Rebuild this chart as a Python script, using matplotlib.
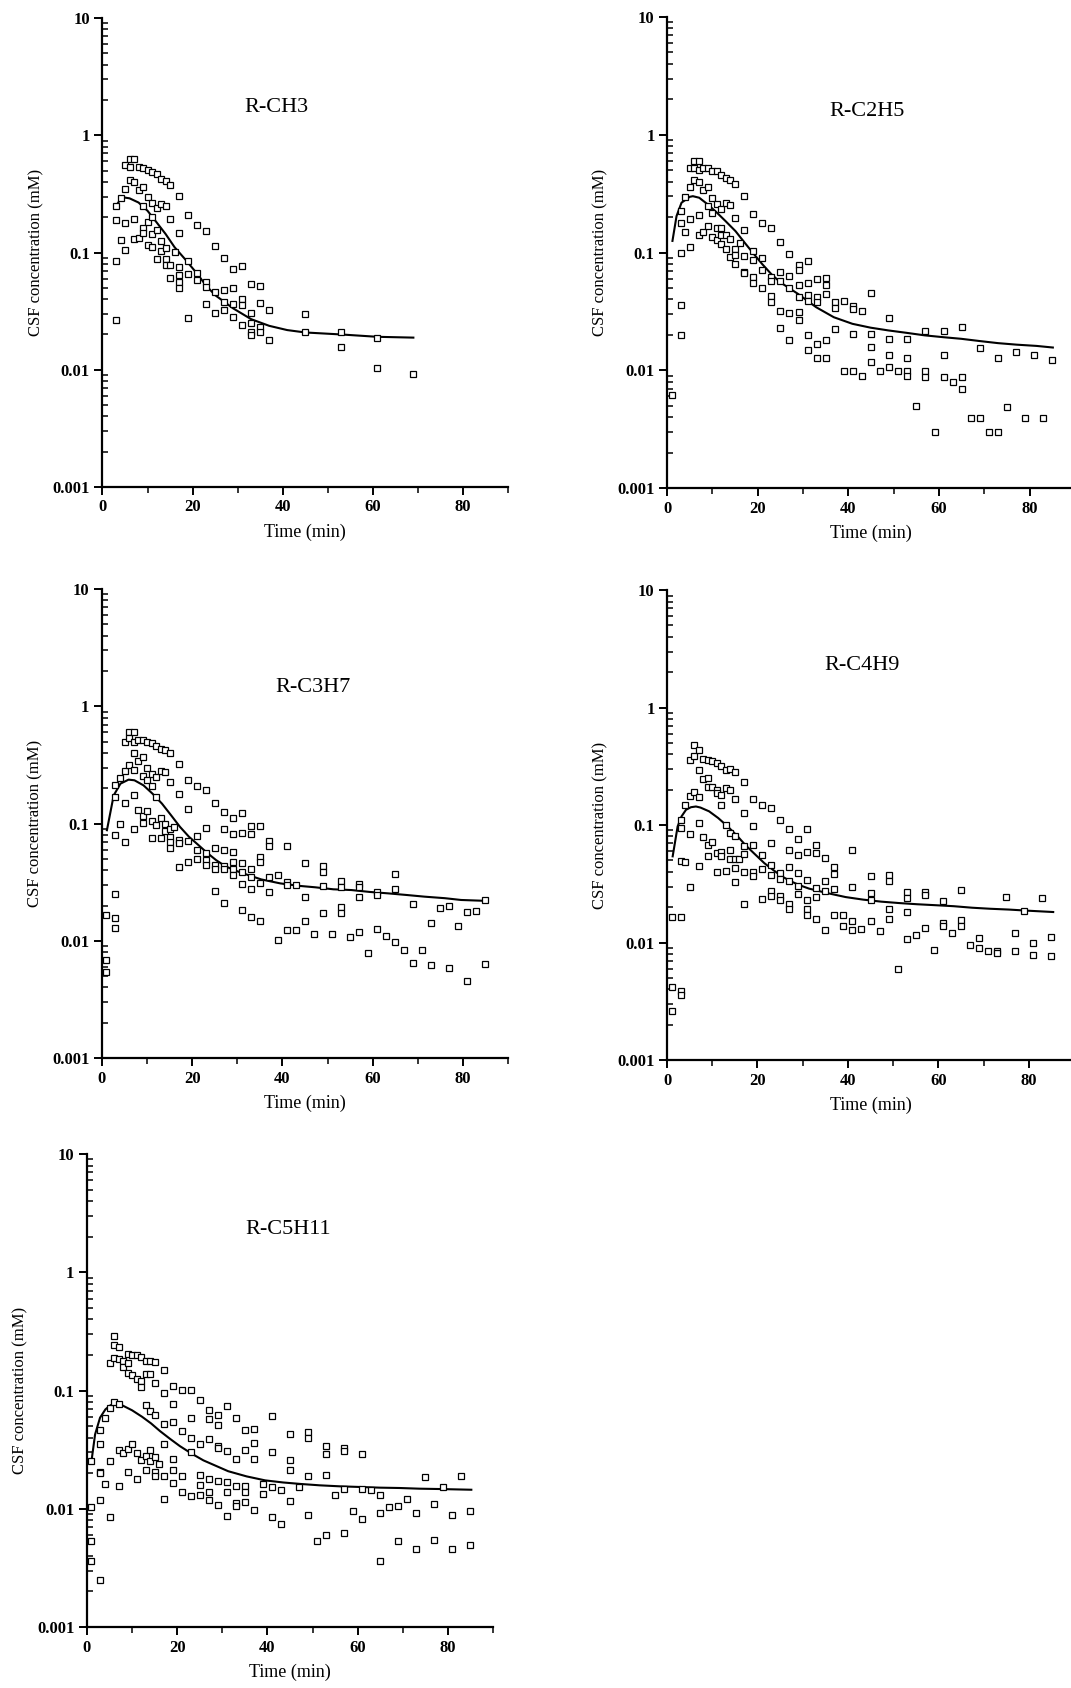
import numpy as np
import matplotlib
matplotlib.use('Agg')
import matplotlib.pyplot as plt
from matplotlib.ticker import MultipleLocator, LogLocator, NullFormatter

plt.rcParams['font.family'] = ['Liberation Serif', 'DejaVu Serif']

# ---- Datos (tiempo en min, concentracion en mM) ----
# R-CH3
t_ch3 = [3, 4, 5, 6, 7, 8, 9, 10, 11, 12, 13, 14, 15, 16, 17, 19, 21, 23, 25, 27,
         29, 31, 33, 35, 37, 45, 53, 61, 69]
c_ch3 = [[0.247, 0.191, 0.085, 0.0264], [0.294, 0.128], [0.557, 0.346, 0.18, 0.106],
         [0.622, 0.535, 0.413], [0.622, 0.40, 0.195, 0.131], [0.535, 0.342, 0.134],
         [0.528, 0.36, 0.249, 0.162, 0.146], [0.502, 0.298, 0.181, 0.115],
         [0.486, 0.265, 0.199, 0.144, 0.112], [0.464, 0.238, 0.156, 0.0873],
         [0.421, 0.258, 0.125, 0.104], [0.407, 0.25, 0.109, 0.0883, 0.0776],
         [0.377, 0.192, 0.0786, 0.0606], [0.101],
         [0.302, 0.148, 0.0751, 0.0638, 0.0561, 0.0499], [0.209, 0.0855, 0.0659, 0.0274],
         [0.173, 0.0668, 0.0579], [0.154, 0.0561, 0.0508, 0.0362], [0.113, 0.0458, 0.0302],
         [0.0895, 0.0477, 0.038, 0.0322], [0.0727, 0.0499, 0.0367, 0.0283],
         [0.0766, 0.04, 0.0356, 0.0241], [0.0539, 0.0302, 0.0249, 0.0211, 0.0198],
         [0.0522, 0.0372, 0.0233, 0.021], [0.0321, 0.0178], [0.03, 0.0208],
         [0.021, 0.0156], [0.0188, 0.0103], [0.0092]]
curva_t_ch3 = [3, 4, 5, 6, 8, 10, 12, 14, 16, 18.3, 21, 23, 25, 29, 33, 37, 41, 45, 53, 61, 69]
curva_c_ch3 = [0.25, 0.285, 0.294, 0.29, 0.267, 0.227, 0.181, 0.144, 0.111, 0.088, 0.066,
               0.0522, 0.0433, 0.0334, 0.027, 0.0237, 0.0218, 0.0208, 0.02, 0.0191, 0.0188]

# R-C2H5
t_c2h5 = [1, 3, 4, 5, 6, 7, 8, 9, 10, 11, 12, 13, 14, 15, 16, 17, 19, 21, 23, 25, 27, 29,
          31, 33, 35, 37, 39, 41, 43, 45, 47, 49, 51, 53, 55, 57, 59, 61, 63, 65, 67, 69,
          71, 73, 75, 77, 79, 81, 83, 85]
c_c2h5 = [[0.0062], [0.225, 0.179, 0.100, 0.0361, 0.0201], [0.297, 0.150],
          [0.523, 0.361, 0.191, 0.112], [0.595, 0.523, 0.417],
          [0.595, 0.506, 0.396, 0.208, 0.141], [0.523, 0.343, 0.148],
          [0.523, 0.361, 0.248, 0.168], [0.496, 0.292, 0.218, 0.136],
          [0.490, 0.256, 0.163, 0.127], [0.459, 0.235, 0.163, 0.140, 0.118],
          [0.430, 0.261, 0.140, 0.107], [0.417, 0.251, 0.130, 0.0925],
          [0.385, 0.198, 0.107, 0.0955, 0.0797], [0.1215],
          [0.305, 0.155, 0.0937, 0.0687, 0.0665], [0.214, 0.103, 0.0867, 0.0615, 0.0551],
          [0.179, 0.0907, 0.0709, 0.0497], [0.161, 0.0615, 0.0576, 0.0431, 0.0378],
          [0.123, 0.0678, 0.0576, 0.0317, 0.0230], [0.098, 0.0635, 0.0497, 0.0307, 0.0179],
          [0.0787, 0.0709, 0.0530, 0.0417, 0.0315, 0.0268],
          [0.0851, 0.0551, 0.0436, 0.0391, 0.0198, 0.0148],
          [0.0595, 0.0417, 0.0378, 0.0168, 0.0128], [0.0603, 0.0533, 0.0445, 0.0179, 0.0128],
          [0.0378, 0.0339, 0.0225], [0.0391, 0.0099], [0.0354, 0.0332, 0.0204, 0.0099],
          [0.0321, 0.0089], [0.0451, 0.0204, 0.0157, 0.0118], [0.0099],
          [0.0280, 0.0185, 0.0136, 0.0107], [0.0099], [0.0185, 0.0126, 0.0099, 0.0089],
          [0.0050], [0.0215, 0.0099, 0.0088], [0.0030], [0.0215, 0.0136, 0.0088], [0.0079],
          [0.0231, 0.0088, 0.0069], [0.0039], [0.0154, 0.0039], [0.0030], [0.0126, 0.0030],
          [0.0049], [0.0143], [0.0039], [0.0134], [0.0039], [0.0123]]
curva_t_c2h5 = [1.2, 2.1, 3.2, 5, 5.7, 7.1, 9, 11, 12.9, 15.1, 17.1, 19, 21, 23, 25, 28.9,
                32.9, 36.8, 40.9, 44.9, 48.8, 52.8, 56.8, 60.9, 64.9, 69, 73, 77.1, 81.5, 85.1]
curva_c_c2h5 = [0.1255, 0.204, 0.265, 0.297, 0.301, 0.292, 0.256, 0.218, 0.185, 0.152,
                0.1215, 0.0987, 0.0797, 0.0656, 0.0558, 0.0445, 0.0343, 0.0282, 0.0248,
                0.023, 0.0218, 0.0208, 0.0198, 0.0191, 0.0185, 0.0177, 0.017, 0.0165,
                0.0161, 0.0156]

# R-C3H7
t_c3h7 = t_c2h5
c_c3h7 = [[0.0166, 0.0069, 0.0054], [0.212, 0.169, 0.0796, 0.0251, 0.0158, 0.0128],
          [0.246, 0.100], [0.501, 0.280, 0.150, 0.069], [0.601, 0.538, 0.313],
          [0.601, 0.494, 0.401, 0.288, 0.176, 0.0895], [0.518, 0.345, 0.130],
          [0.518, 0.369, 0.254, 0.115, 0.101], [0.494, 0.299, 0.234, 0.127],
          [0.485, 0.266, 0.208, 0.105, 0.0746], [0.463, 0.249, 0.169, 0.097],
          [0.434, 0.280, 0.112, 0.0746], [0.426, 0.275, 0.100, 0.0867],
          [0.399, 0.226, 0.0907, 0.0771, 0.0690, 0.0621], [0.0937],
          [0.324, 0.180, 0.0731, 0.0685, 0.0428], [0.234, 0.132, 0.0708, 0.0472],
          [0.208, 0.0780, 0.0593, 0.0498], [0.192, 0.0919, 0.0556, 0.0488, 0.0443],
          [0.151, 0.0613, 0.0443, 0.0407, 0.0266],
          [0.126, 0.0895, 0.0593, 0.0434, 0.0407, 0.0209],
          [0.112, 0.0807, 0.0574, 0.0472, 0.0407, 0.0364],
          [0.122, 0.0839, 0.0457, 0.0388, 0.0305, 0.0183],
          [0.0955, 0.0811, 0.0407, 0.0348, 0.0275, 0.0161],
          [0.0955, 0.0521, 0.0472, 0.0309, 0.0148], [0.0708, 0.0646, 0.0348, 0.0263],
          [0.0364, 0.0102], [0.0642, 0.0319, 0.0299, 0.0124], [0.0299, 0.0124],
          [0.0457, 0.0235, 0.0149], [0.0114], [0.0437, 0.0383, 0.0295, 0.0174], [0.0115],
          [0.0326, 0.0290, 0.0196, 0.0172], [0.0107], [0.0305, 0.0290, 0.0235, 0.0120],
          [0.0079], [0.0263, 0.0246, 0.0126], [0.0109], [0.0369, 0.0275, 0.0097], [0.0084],
          [0.0206, 0.0065], [0.0083], [0.0143, 0.0062], [0.0190], [0.0198, 0.0059],
          [0.0135], [0.0175, 0.0045], [0.0180], [0.0224, 0.0063]]
curva_t_c3h7 = [1.1, 2.6, 4.1, 5.9, 7.2, 9.2, 11.2, 13.3, 15.3, 17.3, 19.3, 21.4, 23.3,
                25.3, 27.3, 29.3, 31.3, 35.3, 39.5, 43.4, 47.3, 51.3, 55.3, 59.4, 63.4,
                67.5, 71.5, 76, 79.6, 85.3]
curva_c_c3h7 = [0.0878, 0.174, 0.219, 0.237, 0.234, 0.212, 0.180, 0.148, 0.118, 0.0937,
                0.0771, 0.0655, 0.0563, 0.0488, 0.0434, 0.0401, 0.0376, 0.0334, 0.0309,
                0.0295, 0.0286, 0.0275, 0.0271, 0.0261, 0.0254, 0.0246, 0.0238, 0.0231,
                0.0223, 0.0219]

# R-C4H9
t_c4h9 = t_c2h5
c_c4h9 = [[0.0165, 0.0042, 0.0026], [0.111, 0.0944, 0.0491, 0.0165, 0.0039, 0.0036],
          [0.149, 0.0482], [0.359, 0.178, 0.0839, 0.0299], [0.482, 0.388, 0.193],
          [0.437, 0.292, 0.172, 0.104, 0.0451], [0.366, 0.248, 0.0786],
          [0.359, 0.254, 0.213, 0.0672, 0.0542], [0.348, 0.213, 0.0713],
          [0.336, 0.200, 0.187, 0.0578, 0.0399], [0.319, 0.181, 0.149, 0.0586, 0.0549],
          [0.295, 0.206, 0.0993, 0.0409], [0.299, 0.200, 0.0855, 0.0617, 0.0514],
          [0.281, 0.167, 0.0802, 0.0514, 0.0431, 0.0328], [0.0514],
          [0.231, 0.126, 0.0659, 0.0571, 0.0396, 0.0213],
          [0.166, 0.0975, 0.0672, 0.0396, 0.0366], [0.149, 0.0552, 0.0423, 0.0237],
          [0.139, 0.0703, 0.0461, 0.0379, 0.0273, 0.0251],
          [0.111, 0.0391, 0.0348, 0.0248, 0.0229],
          [0.0925, 0.0617, 0.0440, 0.0332, 0.0214, 0.0193],
          [0.0766, 0.0560, 0.0391, 0.0305, 0.0259],
          [0.0931, 0.0590, 0.0343, 0.0229, 0.0193, 0.0173],
          [0.0672, 0.0578, 0.0292, 0.0244, 0.0159], [0.0525, 0.0332, 0.0273, 0.0127],
          [0.0440, 0.0386, 0.0286, 0.0173], [0.0173, 0.0138],
          [0.0617, 0.0297, 0.0152, 0.0127], [0.0131], [0.0366, 0.0264, 0.0232, 0.0152],
          [0.0126], [0.0379, 0.0332, 0.0193, 0.0159], [0.0060],
          [0.0268, 0.0240, 0.0182, 0.0107], [0.0117], [0.0268, 0.0256, 0.0132], [0.0087],
          [0.0225, 0.0147, 0.0139], [0.0121], [0.0282, 0.0157, 0.0138], [0.0096],
          [0.0110, 0.0090], [0.0084], [0.0084, 0.0081], [0.0243], [0.0121, 0.0084],
          [0.0187], [0.0099, 0.0079], [0.0240], [0.0111, 0.0077]]
curva_t_c4h9 = [1.25, 2.35, 3.2, 4.2, 5.3, 6.4, 7.4, 9.3, 11.3, 13.4, 15.5, 17.4, 19.4,
                21.5, 23.4, 25.4, 27.4, 29.4, 31.4, 35.4, 39.5, 43.4, 47.4, 51.3, 55.3,
                59.4, 63.4, 67.5, 71.5, 75.6, 79.6, 85.4]
curva_c_c4h9 = [0.0542, 0.0975, 0.1185, 0.135, 0.142, 0.144, 0.141, 0.131, 0.115, 0.0975,
                0.0811, 0.0672, 0.0567, 0.0475, 0.0417, 0.0366, 0.0332, 0.0307, 0.0288,
                0.0264, 0.0244, 0.0232, 0.0223, 0.0217, 0.0212, 0.0208, 0.0204, 0.0198,
                0.0194, 0.0191, 0.0187, 0.0182]

# R-C5H11
t_c5h11 = t_c2h5
c_c5h11 = [[0.0253, 0.0103, 0.0053, 0.0036], [0.0460, 0.0355, 0.0205, 0.0201, 0.0119, 0.0025],
           [0.0590, 0.0163], [0.171, 0.0717, 0.0253, 0.0086], [0.292, 0.243, 0.187, 0.0807],
           [0.232, 0.185, 0.0776, 0.0317, 0.0157], [0.179, 0.157, 0.0297],
           [0.204, 0.171, 0.142, 0.0322, 0.0205], [0.200, 0.136, 0.0355],
           [0.200, 0.125, 0.0297, 0.0180], [0.191, 0.121, 0.108, 0.0261],
           [0.179, 0.138, 0.0756, 0.0279, 0.0214], [0.179, 0.139, 0.0672, 0.0317, 0.0256],
           [0.176, 0.115, 0.0617, 0.0273, 0.0204, 0.0188], [0.0240],
           [0.150, 0.0949, 0.0518, 0.0355, 0.0188, 0.0122],
           [0.110, 0.0776, 0.0542, 0.0264, 0.0214, 0.0165], [0.101, 0.0454, 0.0188, 0.0139],
           [0.101, 0.0582, 0.0399, 0.0301, 0.0129], [0.0828, 0.0350, 0.0195, 0.0158, 0.0130],
           [0.0686, 0.0571, 0.0391, 0.0179, 0.0140, 0.0118],
           [0.0617, 0.0511, 0.0339, 0.0328, 0.0171, 0.0107],
           [0.0741, 0.0307, 0.0167, 0.0138, 0.0087], [0.0582, 0.0264, 0.0157, 0.0112, 0.0105],
           [0.0460, 0.0313, 0.0157, 0.0140, 0.0115], [0.0469, 0.0361, 0.0264, 0.0097],
           [0.0162, 0.0133], [0.0609, 0.0301, 0.0153, 0.0085], [0.0145, 0.0075],
           [0.0426, 0.0261, 0.0212, 0.0117], [0.0153], [0.0448, 0.0399, 0.0191, 0.0088],
           [0.0053], [0.0343, 0.0292, 0.0195, 0.0060], [0.0132],
           [0.0328, 0.0307, 0.0148, 0.0063], [0.0096], [0.0293, 0.0148, 0.0082], [0.0145],
           [0.0132, 0.0092, 0.0036], [0.0103], [0.0106, 0.0053], [0.0121], [0.0093, 0.0046],
           [0.0186], [0.0110, 0.0055], [0.0152], [0.0088, 0.0046], [0.0188], [0.0096, 0.0049]]
curva_t_c5h11 = [1.0, 1.8, 2.9, 4.1, 5.2, 6.3, 7.0, 8.1, 10, 12.2, 14.2, 16.2, 18.4, 20.6,
                 23.2, 25.8, 28.8, 31.3, 35.4, 39.5, 43.5, 47.6, 51.6, 56, 60.5, 64.9,
                 69.3, 73.7, 78.2, 85.2]
curva_c_c5h11 = [0.0253, 0.0426, 0.059, 0.0694, 0.075, 0.078, 0.0776, 0.0741, 0.0681,
                 0.0601, 0.0528, 0.0454, 0.0391, 0.0339, 0.0293, 0.0257, 0.0229, 0.0208,
                 0.0188, 0.0174, 0.0167, 0.0162, 0.0158, 0.0155, 0.0153, 0.0151, 0.015,
                 0.0148, 0.0147, 0.0145]

titulos = ['R-CH3', 'R-C2H5', 'R-C3H7', 'R-C4H9', 'R-C5H11']
etiquetas_y = ['0.001', '0.01', '0.1', '1', '10']


# Funcion para dibujar un panel
def dibujar_panel(ax, tiempos, conc, curva_t, curva_c, titulo, pos_titulo):
    for t, valores in zip(tiempos, conc):
        ax.plot([t] * len(valores), valores, 's', ms=5, mfc='white', mec='black',
                mew=0.9, clip_on=False, zorder=3)
    ax.plot(curva_t, curva_c, '-', color='black', lw=1.5, zorder=2)
    ax.set_yscale('log')
    ax.set_ylim(0.001, 10)
    ax.set_xlim(0, 90)
    ax.set_xticks([0, 20, 40, 60, 80])
    ax.xaxis.set_minor_locator(MultipleLocator(10))
    ax.set_yticks([0.001, 0.01, 0.1, 1, 10])
    ax.set_yticklabels(etiquetas_y)
    ax.yaxis.set_minor_locator(LogLocator(base=10, subs=np.arange(2, 10)))
    ax.yaxis.set_minor_formatter(NullFormatter())
    ax.tick_params(which='major', direction='out', length=6, width=1.4, labelsize=12, pad=3)
    ax.tick_params(axis='y', which='minor', direction='in', length=4, width=1.1)
    ax.tick_params(axis='x', which='minor', direction='out', length=4, width=1.1)
    for lab in ax.get_xticklabels() + ax.get_yticklabels():
        lab.set_fontweight('bold')
    for lado in ['top', 'right']:
        ax.spines[lado].set_visible(False)
    for lado in ['left', 'bottom']:
        ax.spines[lado].set_linewidth(1.6)
    ax.set_xlabel('Time (min)', fontsize=13, labelpad=6)
    ax.set_ylabel('CSF concentration (mM)', fontsize=12, labelpad=6)
    ax.text(pos_titulo[0], pos_titulo[1], titulo, transform=ax.transAxes,
            ha='center', va='center', fontsize=16)


fig = plt.figure(figsize=(10.71, 16.88), dpi=100)
ax1 = fig.add_axes([0.0957, 0.7115, 0.3786, 0.2778])
ax2 = fig.add_axes([0.6228, 0.7109, 0.3810, 0.2790])
ax3 = fig.add_axes([0.0952, 0.3732, 0.3791, 0.2778])
ax4 = fig.add_axes([0.6228, 0.3720, 0.3800, 0.2784])
ax5 = fig.add_axes([0.0812, 0.0361, 0.3791, 0.2802])

dibujar_panel(ax1, t_ch3, c_ch3, curva_t_ch3, curva_c_ch3, titulos[0], (0.43, 0.81))
dibujar_panel(ax2, t_c2h5, c_c2h5, curva_t_c2h5, curva_c_c2h5, titulos[1], (0.49, 0.80))
dibujar_panel(ax3, t_c3h7, c_c3h7, curva_t_c3h7, curva_c_c3h7, titulos[2], (0.52, 0.79))
dibujar_panel(ax4, t_c4h9, c_c4h9, curva_t_c4h9, curva_c_c4h9, titulos[3], (0.48, 0.84))
dibujar_panel(ax5, t_c5h11, c_c5h11, curva_t_c5h11, curva_c_c5h11, titulos[4], (0.495, 0.84))

fig.savefig('out.png', dpi=100)
